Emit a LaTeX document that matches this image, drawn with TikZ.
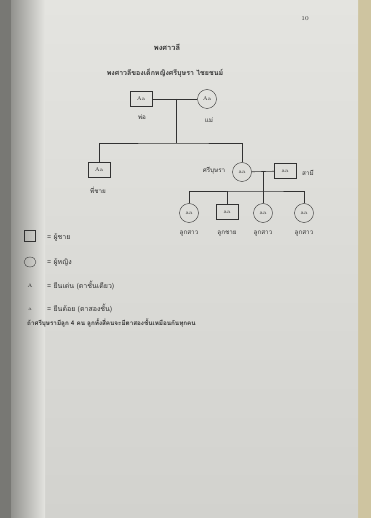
\documentclass[tikz,border=0pt]{standalone}
\usepackage{fontspec}
\newfontfamily\thai[Script=Thai]{Loma}
\usetikzlibrary{shapes.geometric}
\definecolor{paper}{RGB}{228,228,224}
\definecolor{paperlow}{RGB}{210,210,206}
\definecolor{gutter}{RGB}{120,120,116}
\definecolor{bookedge}{RGB}{206,196,160}
\definecolor{ink}{RGB}{50,50,50}

\begin{document}
\begin{tikzpicture}[x=1pt,y=-1pt,
male/.style={draw=ink, rectangle, minimum width=22pt, minimum height=15pt, inner sep=0pt, font=\fontsize{5.5}{6}\selectfont, text=ink},
female/.style={draw=ink, circle, minimum size=19pt, inner sep=0pt, font=\fontsize{5.5}{6}\selectfont, text=ink},
lbl/.style={inner sep=1pt, font=\thai\fontsize{6.3}{7}\selectfont, text=ink},
keylbl/.style={lbl, anchor=west, font=\thai\fontsize{7}{8}\selectfont},
link/.style={draw=ink, line width=0.6pt}
]
\useasboundingbox (0,0) rectangle (371,518);

% page photo
\fill[bookedge] (0,0) rectangle (371,518);
\shade[top color=paper, bottom color=paperlow] (12,0) rectangle (358,518);
\shade[left color=gutter, right color=paper] (0,0) rectangle (45,518);
\fill[gutter] (0,0) rectangle (11,518);

% headings
\node[font=\fontsize{6}{7}\selectfont, text=ink] (pageno) at (305,19) {10};
\node[lbl, font=\thai\bfseries\fontsize{7.5}{8}\selectfont] (title) at (167,47) {พงศาวลี};
\node[lbl, font=\thai\bfseries\fontsize{7}{8}\selectfont] (subtitle) at (165,73) {พงศาวลีของเด็กหญิงศรีบุษรา ไชยชนม์};

% parents
\node[male] (dad) at (141,99) {Aa};
\node[female] (mom) at (207,99) {Aa};
\node[lbl] (dadlbl) at (142,117) {พ่อ};
\node[lbl] (momlbl) at (209,120) {แม่};

% second generation
\node[male] (bro) at (99,170) {Aa};
\node[female] (sis) at (242,172) {aa};
\node[male] (hus) at (285,171) {aa};
\node[lbl] (brolbl) at (98,190) {พี่ชาย};
\node[lbl] (sislbl) at (214,171) {ศรีบุษรา};
\node[lbl] (huslbl) at (308,173) {สามี};

% children
\node[female] (kid1) at (189,213) {aa};
\node[male] (kid2) at (227,212) {aa};
\node[female] (kid3) at (263,213) {aa};
\node[female] (kid4) at (304,213) {aa};
\node[lbl] (kid1lbl) at (189,233) {ลูกสาว};
\node[lbl] (kid2lbl) at (227,233) {ลูกชาย};
\node[lbl] (kid3lbl) at (263,233) {ลูกสาว};
\node[lbl] (kid4lbl) at (304,233) {ลูกสาว};

% lines
\coordinate (pmid) at (176,99);
\coordinate (sibbar) at (176,143);
\coordinate (cmid) at (263,171);
\coordinate (kidbar) at (263,191);
\draw[link] (dad) -- (mom);
\draw[link] (pmid) -- (sibbar);
\draw[link] (bro.north) |- (sibbar) -| (sis.north);
\draw[link] (sis) -- (hus);
\draw[link] (cmid) -- (kidbar);
\draw[link] (kid1.north) |- (kidbar) -| (kid4.north);
\draw[link] (kid2.north) -- (kid2.north |- kidbar);
\draw[link] (kid3.north) -- (kidbar);

% legend
\node[draw=ink, rectangle, minimum size=11pt, inner sep=0pt] (keymale) at (30,236) {};
\node[draw=ink, ellipse, minimum width=12pt, minimum height=10pt, inner sep=0pt] (keyfemale) at (30,262) {};
\node[font=\fontsize{5}{6}\selectfont, text=ink] (keyA) at (30,286) {A};
\node[font=\fontsize{5}{6}\selectfont, text=ink] (keya) at (30,309) {a};
\node[keylbl] (keymalelbl) at (46,237) {= ผู้ชาย};
\node[keylbl] (keyfemalelbl) at (46,262) {= ผู้หญิง};
\node[keylbl] (keyAlbl) at (46,286) {= ยีนเด่น (ตาชั้นเดียว)};
\node[keylbl] (keyalbl) at (46,309) {= ยีนด้อย (ตาสองชั้น)};

% conclusion
\node[lbl, anchor=west, font=\thai\bfseries\fontsize{6.3}{7}\selectfont] (note) at (26,323) {ถ้าศรีบุษรามีลูก 4 คน ลูกทั้งสี่คนจะมีตาสองชั้นเหมือนกันทุกคน};
\end{tikzpicture}
\end{document}
